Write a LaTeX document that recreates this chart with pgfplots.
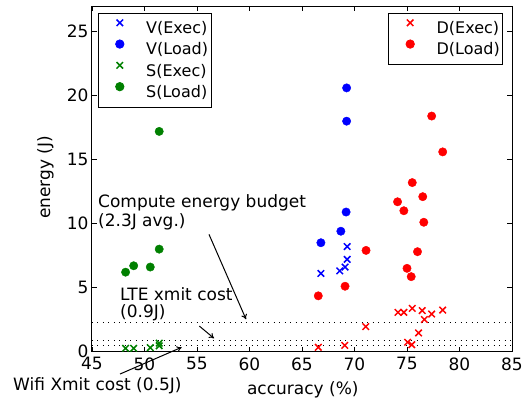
\documentclass[border=0pt]{standalone}
\usepackage{pgfplots}
\pgfplotsset{compat=1.18}
\usepackage{fontspec}
\setmainfont{DejaVu Sans}
\usetikzlibrary{arrows.meta}
\newcommand\f{\fontsize{17}{20}\selectfont}
\newcommand\lf{\fontsize{16}{19}\selectfont}
\definecolor{mgreen}{RGB}{0,128,0}
\begin{document}
\begin{tikzpicture}
\pgfplotsset{
  common/.style={
    width=420pt, height=345.5pt, scale only axis,
    xmin=45, xmax=85, ymin=0, ymax=27, clip=false,
    legend cell align=left,
    legend style={draw=black, line width=0.8pt, inner xsep=0pt, inner ysep=4.3pt,
      row sep=0pt, column sep=0pt, fill=white,
      nodes={inner xsep=3pt, inner ysep=0pt, text height=16pt, text depth=5.3pt, font=\lf}},
  },
  vx/.style={only marks, mark=x, mark size=4.6pt, mark options={solid, line width=1.5pt}},
  vd/.style={only marks, mark=*, mark size=4.2pt, mark options={solid, draw=none}},
}
\begin{axis}[common,
  axis line style={line width=1pt},
  tick style={black, line width=0.8pt},
  major tick length=5pt,
  tick align=inside,
  xtick={45,50,...,85}, ytick={0,5,...,25},
  xticklabel style={font=\f, yshift=-2.5pt},
  yticklabel style={font=\f},
  /pgf/number format/assume math mode=true,
  xlabel={accuracy (\%)}, ylabel={energy (J)},
  xlabel style={font=\f, at={(axis description cs:0.502,-0.123)}, anchor=base},
  ylabel style={font=\f, at={(axis description cs:-0.111,0.504)}, anchor=center, rotate=0},
  legend style={at={(axis description cs:0.0143,0.98)}, anchor=north west},
  legend image code/.code={\path (0pt,0pt) (44pt,0pt); \draw[#1] plot coordinates {(21pt,5.5pt)};},
]
% dotted budget lines
\addplot[forget plot, black, line width=0.9pt, dash pattern=on 1pt off 4.5pt] coordinates {(45,2.3) (85,2.3)};
\addplot[forget plot, black, line width=0.9pt, dash pattern=on 1pt off 4.5pt] coordinates {(45,0.85) (85,0.85)};
\addplot[forget plot, black, line width=0.9pt, dash pattern=on 1pt off 4.5pt] coordinates {(45,0.45) (85,0.45)};

\addplot[vx, blue] coordinates {(66.8,6.1) (68.6,6.3) (69.1,6.6) (69.3,7.2) (69.3,8.2)};
\addlegendentry{V(Exec)}
\addplot[vd, blue] coordinates {(69.25,20.6) (69.25,18.0) (69.2,10.9) (68.7,9.4) (66.8,8.5)};
\addlegendentry{V(Load)}
\addplot[vx, mgreen] coordinates {(48.2,0.25) (48.97,0.25) (50.55,0.3) (51.4,0.45) (51.4,0.65)};
\addlegendentry{S(Exec)}
\addplot[vd, mgreen] coordinates {(48.2,6.2) (48.97,6.7) (50.55,6.6) (51.4,8.0) (51.4,17.2)};
\addlegendentry{S(Load)}

% annotations
\node[font=\f, anchor=base west, inner sep=0pt] at (axis cs:45.57,11.29) {Compute energy budget};
\node[font=\f, anchor=base west, inner sep=0pt] at (axis cs:45.57,9.80) {(2.3J avg.)};
\node[font=\f, anchor=base west, inner sep=0pt] at (axis cs:47.67,4.02) {LTE xmit cost};
\node[font=\f, anchor=base west, inner sep=0pt] at (axis cs:47.67,2.67) {(0.9J)};
\node[font=\f, anchor=base west, inner sep=0pt] at (axis cs:37.48,-3.01) {Wifi Xmit cost (0.5J)};
\draw[-{To[length=5pt,width=6pt]}, line width=1pt] (axis cs:56.14,9.16) -- (axis cs:59.67,2.52);
\draw[-{To[length=5pt,width=6pt]}, line width=1pt] (axis cs:55.22,1.99) -- (axis cs:56.62,1.03);
\draw[-{To[length=5pt,width=6pt]}, line width=1pt] (axis cs:47.67,-1.76) -- (axis cs:53.54,0.33);
\end{axis}

\begin{axis}[common, axis lines=none,
  legend style={at={(axis description cs:0.979,0.98)}, anchor=north east},
  legend image code/.code={\path (0pt,0pt) (44pt,0pt); \draw[#1] plot coordinates {(21pt,5.5pt)};},
]
\addplot[vx, red] coordinates {(66.55,0.33) (69.07,0.48) (71.07,1.94) (74.14,3.06) (74.7,3.06) (75.5,3.37) (76.45,3.2) (77.35,2.93) (78.4,3.24) (76.65,2.5) (76.1,1.45) (75.06,0.72) (75.45,0.53)};
\addlegendentry{D(Exec)}
\addplot[vd, red] coordinates {(77.35,18.4) (78.4,15.6) (75.5,13.2) (76.5,12.1) (74.1,11.7) (74.7,11.0) (76.6,10.1) (71.1,7.9) (76.0,7.8) (75.0,6.5) (75.4,5.85) (69.1,5.1) (66.55,4.35)};
\addlegendentry{D(Load)}
\end{axis}
\pgfresetboundingbox
\path (-92pt,-50.5pt) rectangle (440pt,351.5pt);
\end{tikzpicture}
\end{document}
